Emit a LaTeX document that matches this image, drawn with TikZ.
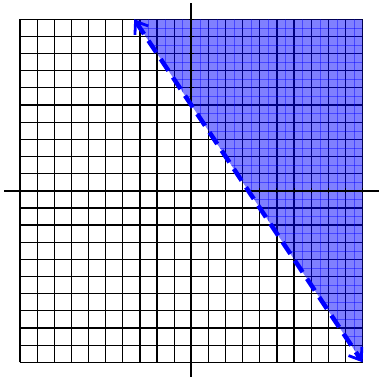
\documentclass[tikz,border=0pt]{standalone}
\usetikzlibrary{arrows.meta}
\begin{document}
\begin{tikzpicture}[x=17.13pt,y=17.15pt,
  gridline/.style={line width=1.2pt,black},
  axisline/.style={line width=1.9pt,black},
  tickmark/.style={line width=1pt,black},
  fineline/.style={blue,line width=0.5pt,opacity=0.45},
  halfplane/.style={fill=blue,fill opacity=0.5},
  bound/.style={blue,line width=4.5pt,dash pattern=on 14pt off 8pt,
     {Straight Barb[length=11pt,width=16pt,line width=2.8pt]}-{Straight Barb[length=11pt,width=16pt,line width=2.8pt]}}]
\useasboundingbox (-11.167,-10.857) rectangle (10.957,11.125);
% grid
\foreach \i in {-10,-9,-8,-7,-6,-5,-4,-3,-2,-1,0,1,2,3,4,5,6,7,8,9,10}{
  \draw[gridline] (\i,-10) -- (\i,10);
  \draw[gridline] (-10,\i) -- (10,\i);
}
% shaded half-plane
\coordinate (A) at (-10/3,10);
\coordinate (B) at (10,10);
\coordinate (C) at (10,-10);
\fill[halfplane] (A) -- (B) -- (C) -- cycle;
\begin{scope}
\clip (A) -- (B) -- (C) -- cycle;
\foreach \i in {-9.5,-8.5,-7.5,-6.5,-5.5,-4.5,-3.5,-2.5,-1.5,-0.5,0.5,1.5,2.5,3.5,4.5,5.5,6.5,7.5,8.5,9.5}{
  \draw[fineline] (\i,-10) -- (\i,10);
  \draw[fineline] (-10,\i) -- (10,\i);
}
\end{scope}
% axes
\coordinate (xl) at (-10.93,0);
\coordinate (xr) at (10.96,0);
\coordinate (yb) at (0,-10.84);
\coordinate (yt) at (0,10.95);
\draw[axisline] (xl) -- (xr);
\draw[axisline] (yb) -- (yt);
\foreach \i in {-10,...,10}{
  \draw[tickmark] (\i,-0.15) -- (\i,0.15);
  \draw[tickmark] (-0.15,\i) -- (0.15,\i);
}
% boundary line
\draw[bound] (A) -- (C);
\end{tikzpicture}
\end{document}
